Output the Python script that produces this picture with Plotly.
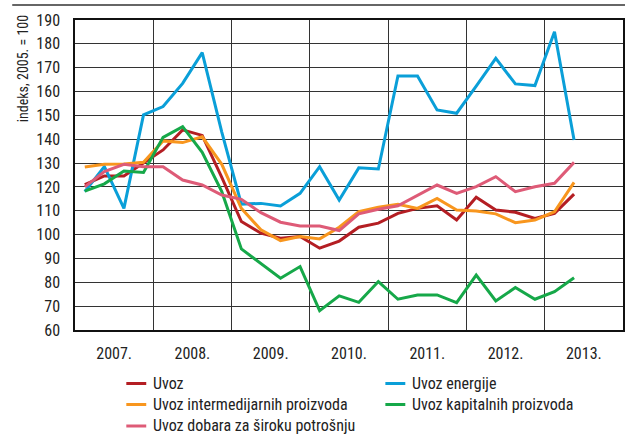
import plotly.graph_objects as go

# Quarterly data, 2007 Q1 - 2013 Q2
years = [2007, 2008, 2009, 2010, 2011, 2012, 2013]
year_labels = ["2007.", "2008.", "2009.", "2010.", "2011.", "2012.", "2013."]
quarters = [y + 0.125 + 0.25 * q for y in years for q in range(4)][:26]

uvoz = [121, 124.6, 124.6, 130, 135.5, 143.9, 141.6, 124, 105.5, 100.6, 98.5, 99.2, 94.3,
        97.3, 103.1, 104.8, 108.9, 111.0, 112.1, 106.1, 115.7, 110.3, 109.4, 106.8, 108.9, 117.0]
uvoz_energije = [118, 128.5, 111, 150.2, 153.7, 163.4, 176.3, 143, 112.8, 113.1, 112, 117.3, 128.5,
                 114.5, 128, 127.5, 166.5, 166.5, 152.3, 150.9, 162.3, 173.9, 163.2, 162.5, 185.1, 139.7]
uvoz_intermedijarnih = [128.4, 129.5, 129.6, 130.3, 139.3, 138.6, 141.0, 129.5, 111, 102, 97.5, 99.2, 98.2,
                        103.1, 109.6, 111.5, 112.7, 111.0, 115.2, 110.3, 109.9, 108.7, 105, 106.1, 109.6, 121.9]
uvoz_kapitalnih = [118.2, 121.3, 126.7, 126.1, 140.8, 145.3, 134.5, 118, 94, 87.7, 81.7, 86.6, 68.1,
                   74.3, 71.6, 80.3, 72.9, 74.7, 74.7, 71.5, 83, 72.2, 77.8, 72.9, 76.1, 81.9]
uvoz_dobara = [120, 126.4, 129.5, 128.5, 128.5, 122.9, 120.8, 116.6, 114.8, 109.2, 105.2, 103.6, 103.6,
               101.7, 108.7, 110.6, 112.1, 116.6, 120.8, 117.3, 120.1, 124.3, 118, 120.1, 121.5, 130.3]

series = [
    ("Uvoz", uvoz, "#B41E23"),
    ("Uvoz energije", uvoz_energije, "#0A9FD8"),
    ("Uvoz intermedijarnih proizvoda", uvoz_intermedijarnih, "#F8961E"),
    ("Uvoz kapitalnih proizvoda", uvoz_kapitalnih, "#16A849"),
    ("Uvoz dobara za široku potrošnju", uvoz_dobara, "#DE5B77"),
]
# legend slots (column, row) in the same order as series
legend_slots = [(0, 0), (1, 0), (0, 1), (1, 1), (0, 2)]

FONT = "Liberation Sans Narrow, Arial Narrow, Roboto Condensed, Liberation Sans, sans-serif"
W, H = 630, 435
ML, MR, MT, MB = 75, 5, 20, 105
PW, PH = W - ML - MR, H - MT - MB


def px_x(px):
    return (px - ML) / PW


def px_y(py):
    return (H - MB - py) / PH


fig = go.Figure()
for name, vals, col in series:
    fig.add_trace(go.Scatter(x=quarters, y=vals, name=name, mode="lines",
                             line=dict(color=col, width=3), hoverinfo="skip"))

fig.update_layout(
    width=W, height=H,
    margin=dict(l=ML, r=MR, t=MT, b=MB),
    paper_bgcolor="white", plot_bgcolor="white",
    font=dict(family=FONT, size=16, color="#222"),
    showlegend=False,
    xaxis=dict(range=[2007, 2014], tickmode="array",
               tickvals=[y + 0.5 for y in years], ticktext=year_labels,
               showgrid=False, zeroline=False, ticks="", ticklabelstandoff=8,
               showline=True, linecolor="#111", linewidth=1.5, mirror=True,
               minor=dict(tickmode="array", tickvals=list(range(2007, 2015)),
                          showgrid=True, gridcolor="#333", gridwidth=1, ticks="")),
    yaxis=dict(range=[60, 190], tickmode="array", tickvals=list(range(60, 191, 10)),
               showgrid=True, gridcolor="#333", gridwidth=1, zeroline=False,
               ticks="", ticklabelstandoff=10,
               showline=True, linecolor="#111", linewidth=1.5, mirror=True),
)

# manual legend (two columns)
col_x = [126.5, 386.5]
row_y = [383.5, 404.5, 426]
for (name, vals, col), (c, r) in zip(series, legend_slots):
    x0 = col_x[c]
    yy = row_y[r]
    fig.add_shape(type="line", xref="paper", yref="paper",
                  x0=px_x(x0), x1=px_x(x0 + 20), y0=px_y(yy), y1=px_y(yy),
                  line=dict(color=col, width=3))
    fig.add_annotation(text=name, xref="paper", yref="paper",
                       x=px_x(x0 + 25), y=px_y(yy), xanchor="left", yanchor="middle",
                       showarrow=False, font=dict(size=16, color="#222"))

fig.add_annotation(text="indeks, 2005. = 100", xref="paper", yref="paper",
                   x=px_x(22.5), y=px_y(13), xanchor="center", yanchor="top", textangle=-90,
                   showarrow=False, font=dict(size=14, color="#222"))

# thin rule across the top of the figure
fig.add_shape(type="line", xref="paper", yref="paper", x0=px_x(12), x1=px_x(627),
              y0=px_y(5), y1=px_y(5), line=dict(color="#333", width=1.5), layer="above")

fig.write_html("out.html", config={"displayModeBar": False},
               post_script="document.body.style.margin='0px';document.body.style.overflow='hidden';")
